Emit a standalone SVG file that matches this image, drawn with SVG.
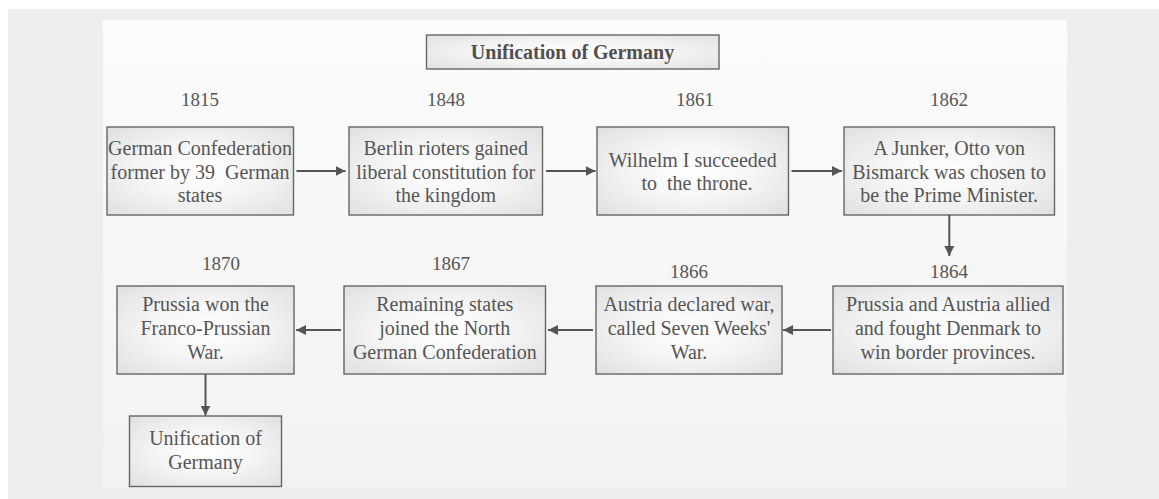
<svg xmlns="http://www.w3.org/2000/svg" width="1159" height="499" viewBox="0 0 1159 499">
  <defs>
    <linearGradient id="panelFill" x1="0" y1="0" x2="0" y2="1">
      <stop offset="0" stop-color="#fbfbfb"/>
      <stop offset="1" stop-color="#f1f2f2"/>
    </linearGradient>
    <radialGradient id="boxFill" cx="0.5" cy="0.5" r="0.7">
      <stop offset="0" stop-color="#ffffff"/>
      <stop offset="0.45" stop-color="#f5f5f5"/>
      <stop offset="1" stop-color="#e0e0e0"/>
    </radialGradient>
    <marker id="arrow" markerUnits="userSpaceOnUse" markerWidth="10" markerHeight="10" refX="10" refY="5" orient="auto">
      <path d="M0,0 L10,5 L0,10 z" fill="#555555"/>
    </marker>
    <style>
      .box { fill: url(#boxFill); stroke: #666666; stroke-width: 1.4; }
      .txt { font-family: "Liberation Serif", "DejaVu Serif", serif; font-size: 20px; fill: #555555; text-anchor: middle; white-space: pre; }
      .year { font-family: "Liberation Serif", "DejaVu Serif", serif; font-size: 19px; fill: #555555; text-anchor: middle; }
      .title { font-family: "Liberation Serif", "DejaVu Serif", serif; font-size: 20px; font-weight: bold; fill: #505050; text-anchor: middle; }
      .link { stroke: #555555; stroke-width: 2; fill: none; marker-end: url(#arrow); }
    </style>
  </defs>

  <!-- page background -->
  <rect x="0" y="0" width="1159" height="499" fill="#ffffff"/>
  <rect x="8" y="9" width="1151" height="490" fill="#eeeeee"/>
  <rect x="103" y="20" width="964" height="468" fill="url(#panelFill)"/>

  <!-- heading -->
  <g id="title">
    <rect class="box" x="426.5" y="35" width="292.5" height="34"/>
    <text class="title" x="572.5" y="59">Unification of Germany</text>
  </g>

  <!-- year labels -->
  <g id="years">
    <text class="year" x="200" y="106">1815</text>
    <text class="year" x="446" y="106">1848</text>
    <text class="year" x="695" y="106">1861</text>
    <text class="year" x="949" y="106">1862</text>
    <text class="year" x="949" y="278">1864</text>
    <text class="year" x="689" y="278">1866</text>
    <text class="year" x="451" y="270">1867</text>
    <text class="year" x="221" y="270">1870</text>
  </g>

  <!-- first row -->
  <g id="n1815">
    <rect class="box" x="107" y="127" width="186.5" height="88"/>
    <text class="txt" x="200" y="155">German Confederation</text>
    <text class="txt" x="200" y="178.5">former by 39  German</text>
    <text class="txt" x="200" y="202">states</text>
  </g>
  <g id="n1848">
    <rect class="box" x="349" y="127" width="193.5" height="88"/>
    <text class="txt" x="445.7" y="155">Berlin rioters gained</text>
    <text class="txt" x="445.7" y="178.5">liberal constitution for</text>
    <text class="txt" x="445.7" y="202">the kingdom</text>
  </g>
  <g id="n1861">
    <rect class="box" x="597" y="127" width="191.5" height="88"/>
    <text class="txt" x="692.7" y="166.5">Wilhelm I succeeded</text>
    <text class="txt" x="697" y="190">to  the throne.</text>
  </g>
  <g id="n1862">
    <rect class="box" x="844" y="127" width="210.5" height="88"/>
    <text class="txt" x="949.2" y="155">A Junker, Otto von</text>
    <text class="txt" x="949.2" y="178.5">Bismarck was chosen to</text>
    <text class="txt" x="949.2" y="202">be the Prime Minister.</text>
  </g>

  <!-- second row -->
  <g id="n1864">
    <rect class="box" x="833" y="286" width="230" height="88"/>
    <text class="txt" x="948" y="311">Prussia and Austria allied</text>
    <text class="txt" x="948" y="335">and fought Denmark to</text>
    <text class="txt" x="948" y="358.5">win border provinces.</text>
  </g>
  <g id="n1866">
    <rect class="box" x="596" y="286" width="186" height="88"/>
    <text class="txt" x="689" y="311">Austria declared war,</text>
    <text class="txt" x="689" y="335">called Seven Weeks'</text>
    <text class="txt" x="689" y="358.5">War.</text>
  </g>
  <g id="n1867">
    <rect class="box" x="344" y="286" width="201.5" height="88"/>
    <text class="txt" x="444.8" y="311">Remaining states</text>
    <text class="txt" x="444.8" y="335">joined the North</text>
    <text class="txt" x="444.8" y="358.5">German Confederation</text>
  </g>
  <g id="n1870">
    <rect class="box" x="117" y="286" width="177" height="88"/>
    <text class="txt" x="205.5" y="311">Prussia won the</text>
    <text class="txt" x="205.5" y="335">Franco-Prussian</text>
    <text class="txt" x="205.5" y="358.5">War.</text>
  </g>
  <g id="unified">
    <rect class="box" x="129.5" y="416" width="152" height="70.5"/>
    <text class="txt" x="205.5" y="445">Unification of</text>
    <text class="txt" x="205.5" y="468.5">Germany</text>
  </g>

  <!-- connectors -->
  <g id="connectors">
    <line class="link" x1="296.5" y1="171" x2="345.5" y2="171"/>
    <line class="link" x1="546" y1="171" x2="595.5" y2="171"/>
    <line class="link" x1="791.5" y1="171" x2="842" y2="171"/>
    <line class="link" x1="949.3" y1="215" x2="949.3" y2="256"/>
    <line class="link" x1="831" y1="330" x2="783" y2="330"/>
    <line class="link" x1="593" y1="330" x2="548" y2="330"/>
    <line class="link" x1="341" y1="330" x2="296" y2="330"/>
    <line class="link" x1="205.5" y1="374" x2="205.5" y2="415.5"/>
  </g>
</svg>
